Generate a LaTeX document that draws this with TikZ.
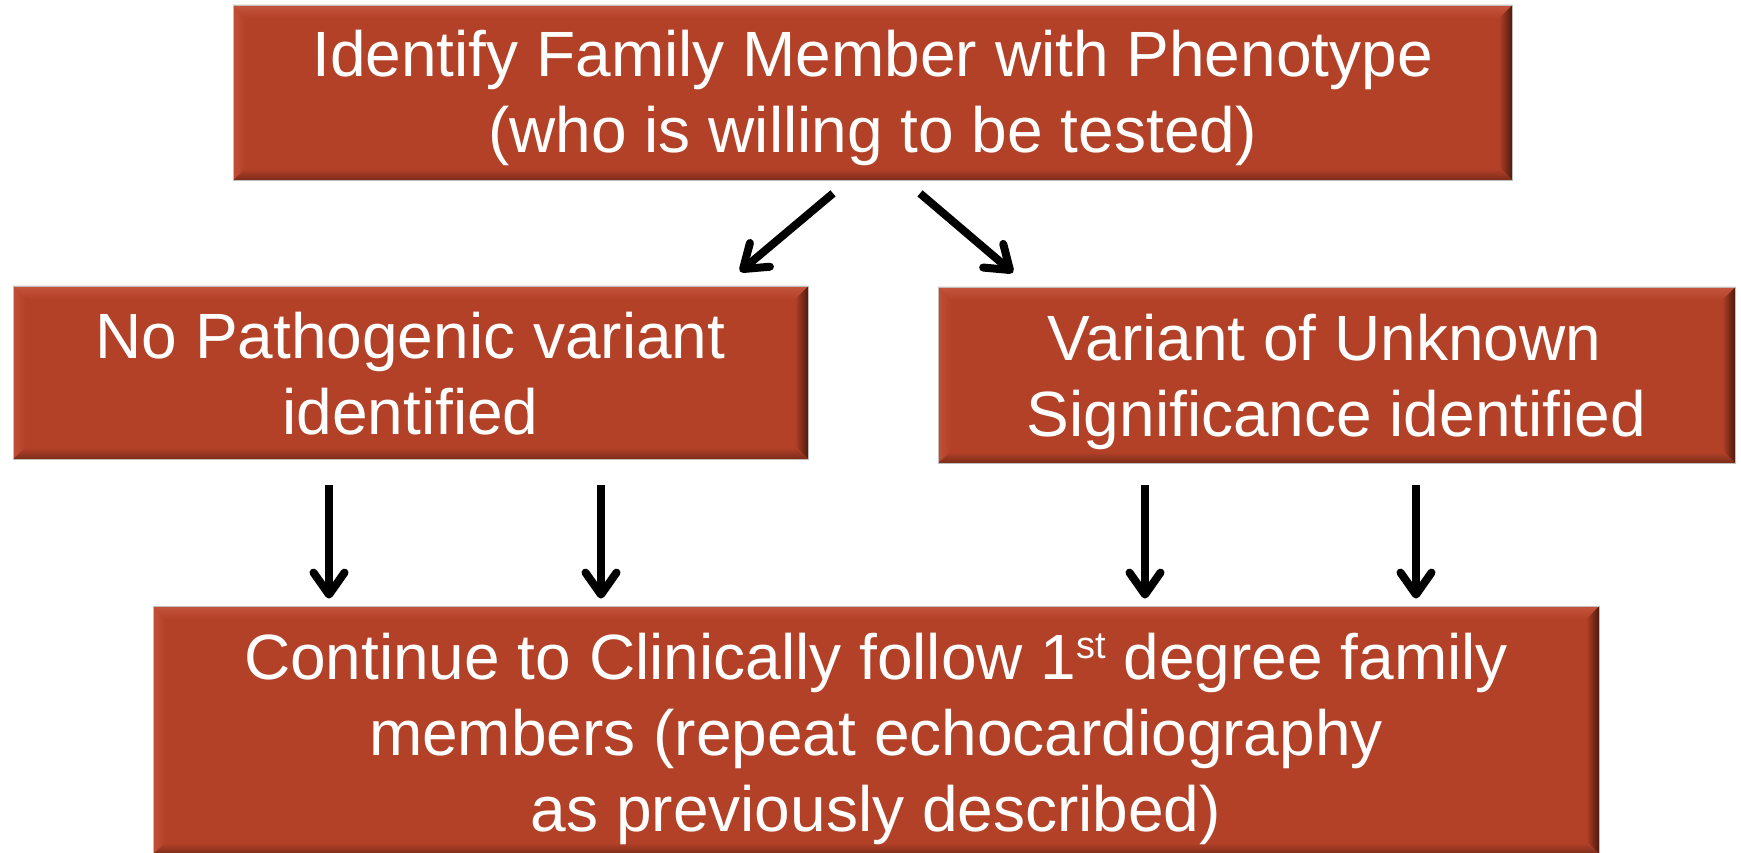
\documentclass[tikz,border=0pt]{standalone}
\usepackage{fontspec}
\setmainfont{Liberation Sans}
\usetikzlibrary{arrows.meta,calc}
\definecolor{brick}{HTML}{B34127}
\definecolor{brickhi}{HTML}{EC7A62}
\definecolor{brickedge}{HTML}{C4563D}
\definecolor{brickdark}{HTML}{4E1A0E}
\definecolor{brickshadow}{HTML}{7A2C1B}

% one text line with no height or depth of its own
\newcommand\flatline[1]{\smash{#1}}
% fixed extent above the first and below the last baseline
\newcommand\capstrut[1]{\rule{0pt}{#1}}
\newcommand\footstrut[1]{\rule[-#1]{0pt}{#1}}
% raised ordinal suffix
\newcommand\ordsuffix[1]{\raisebox{21pt}{\fontsize{38}{38}\selectfont #1}}

\tikzset{
  bevelbox/.style={
    fill=brick, draw=gray!50, line width=0.8pt, inner sep=0pt,
    text=white, align=center, font=\fontsize{64}{76}\selectfont,
    path picture={
      \coordinate (pnw) at (path picture bounding box.north west);
      \coordinate (pne) at (path picture bounding box.north east);
      \coordinate (psw) at (path picture bounding box.south west);
      \coordinate (pse) at (path picture bounding box.south east);
      % left face
      \shade[left color=brick!75!brickhi, right color=brick]
        (pnw) -- ($(pnw)+(13pt,-13pt)$) -- ($(psw)+(13pt,13pt)$) -- (psw) -- cycle;
      % right face
      \shade[left color=brick, right color=brickdark]
        (pne) -- ($(pne)+(-13pt,-13pt)$) -- ($(pse)+(-13pt,13pt)$) -- (pse) -- cycle;
      % top face
      \shade[top color=brickedge, middle color=brickhi, bottom color=brick]
        (pnw) -- (pne) -- ($(pne)+(-13pt,-13pt)$) -- ($(pnw)+(13pt,-13pt)$) -- cycle;
      % bottom face
      \shade[top color=brick, bottom color=brickshadow]
        (psw) -- (pse) -- ($(pse)+(-13pt,11pt)$) -- ($(psw)+(13pt,11pt)$) -- cycle;
    }},
  arr/.style={line width=8pt, -{Straight Barb[length=22pt 0, width=31pt 0, round]}}
}

\begin{document}
\begin{tikzpicture}[x=1pt, y=-1pt]
  \useasboundingbox[fill=white] (0,0) rectangle (1741,853);

  \node[bevelbox, minimum width=1279pt, minimum height=175pt] (top) at (872.5,92.5)
    {\capstrut{50pt}\flatline{Identify Family Member with Phenotype}\\
     \flatline{(who is willing to be tested)}\footstrut{5pt}};
  \node[bevelbox, minimum width=795pt, minimum height=173pt] (left) at (410.5,372.5)
    {\capstrut{50pt}\flatline{No Pathogenic variant}\\
     \flatline{identified}\footstrut{3pt}};
  \node[bevelbox, minimum width=797pt, minimum height=176pt] (right) at (1336.5,375)
    {\capstrut{50pt}\flatline{Variant of Unknown\hspace*{24pt}}\\
     \flatline{Significance identified}\footstrut{4pt}};
  \node[bevelbox, minimum width=1446pt, minimum height=248pt] (bottom) at (876,730)
    {\capstrut{50pt}\flatline{Continue to Clinically follow 1\ordsuffix{st} degree family}\\
     \flatline{members (repeat echocardiography}\\
     \flatline{as previously described)}\footstrut{0pt}};

  % branching from the top box
  \draw[arr] ([shift={(-39.5,13)}]top.south) -- ([shift={(329.5,-14)}]left.north);
  \draw[arr] ([shift={(47.5,13)}]top.south) -- ([shift={(-323.5,-14)}]right.north);

  % converging on the bottom box
  \draw[arr] ([shift={(-81.5,26)}]left.south) -- ([shift={(-547,-7)}]bottom.north);
  \draw[arr] ([shift={(190.5,26)}]left.south) -- ([shift={(-275,-7)}]bottom.north);
  \draw[arr] ([shift={(-191.5,22)}]right.south) -- ([shift={(269,-7)}]bottom.north);
  \draw[arr] ([shift={(79.5,22)}]right.south) -- ([shift={(540,-7)}]bottom.north);
\end{tikzpicture}
\end{document}
